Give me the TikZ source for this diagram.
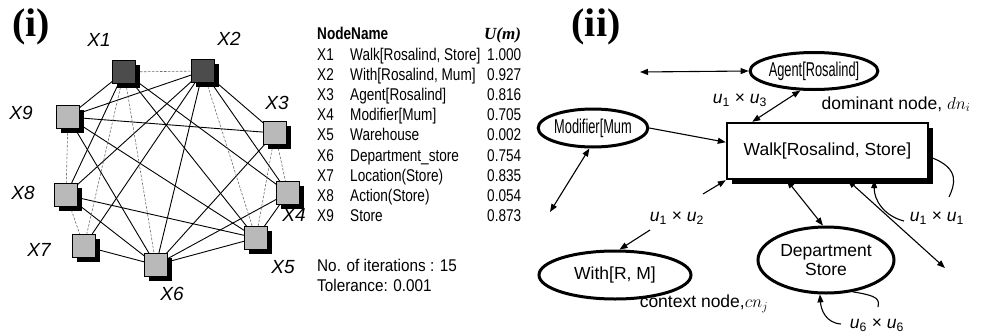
\documentclass[tikz,border=0pt]{standalone}
\usepackage{fontspec}
\setmainfont{Liberation Sans}
\newfontfamily\tabfont[FakeStretch=0.8]{Liberation Sans}
\newfontfamily\notefont[FakeStretch=0.9]{Liberation Sans}
\newfontfamily\condfont[FakeStretch=0.64]{Liberation Sans}
\newfontfamily\serfont{Liberation Serif}
\usetikzlibrary{arrows.meta,shapes.geometric,shadows,calc,backgrounds}

\begin{document}
\begin{tikzpicture}[x=1pt,y=-1pt,
  >={Triangle[length=8pt,width=6pt]},
  vbox/.style={draw=black,line width=1.8pt,fill=gray!55,minimum size=23pt,inner sep=0pt,
    drop shadow={shadow xshift=4.5pt,shadow yshift=-4.5pt,fill=black,opacity=1}},
  dbox/.style={vbox,fill=black!70},
  vlab/.style={font=\fontsize{19}{19}\selectfont\itshape,inner sep=0pt},
  strong/.style={line width=0.9pt},
  weak/.style={line width=0.6pt,gray!85!black,dash pattern=on 2.5pt off 1.5pt},
  tab/.style={anchor=base west,inner sep=0pt,font=\tabfont\fontsize{17}{17}\selectfont},
  note/.style={anchor=base west,inner sep=0pt,font=\notefont\fontsize{17}{17}\selectfont},
  ell/.style={ellipse,draw,line width=3pt,fill=white,inner sep=0pt},
  lab/.style={font=\fontsize{17.5}{19}\selectfont,inner sep=0pt,align=center},
  link/.style={line width=1.1pt},
  panel/.style={font=\serfont\bfseries\fontsize{40}{40}\selectfont,inner sep=0pt}
]
\useasboundingbox (0,0) rectangle (986,335);

% ---------- panel (i): network of nine nodes ----------
\node[panel] (pi) at (31,27) {(i)};

\node[dbox] (n1) at (124,72) {};
\node[dbox] (n2) at (203,71) {};
\node[vbox] (n3) at (275,133) {};
\node[vbox] (n4) at (288,193) {};
\node[vbox] (n5) at (256,238) {};
\node[vbox] (n6) at (156,265) {};
\node[vbox] (n7) at (84,246) {};
\node[vbox] (n8) at (66,195) {};
\node[vbox] (n9) at (68,117) {};

\begin{pgfonlayer}{background}
  \foreach \a/\b in {1/9,1/8,1/5,1/4,2/9,2/8,2/7,2/6,2/4,2/3,9/3,9/5,9/6,3/6,8/5,8/6,7/6,4/6,4/5,5/6}
    \draw[strong] (n\a.center) -- (n\b.center);
  \foreach \a/\b in {1/2,1/7,1/6,9/8,2/5,3/5,3/4,8/7}
    \draw[weak] (n\a.center) -- (n\b.center);
\end{pgfonlayer}

\node[vlab] (l1) at (99,40) {X1};
\node[vlab] (l2) at (229,39) {X2};
\node[vlab] (l3) at (277,103) {X3};
\node[vlab] (l4) at (294,215) {X4};
\node[vlab] (l5) at (283,267) {X5};
\node[vlab] (l6) at (172,294) {X6};
\node[vlab] (l7) at (39,250) {X7};
\node[vlab] (l8) at (23,193) {X8};
\node[vlab] (l9) at (21,113) {X9};

% ---------- table of node values ----------
\node[tab,font=\tabfont\bfseries\fontsize{17}{17}\selectfont] (hd) at (317,39.5) {NodeName};
\node[tab,font=\serfont\bfseries\itshape\fontsize{17}{17}\selectfont] (hu) at (484,39.5) {U(m)};
\foreach \lab/\nm/\val [count=\k] in {
   X1/{Walk[Rosalind, Store]}/1.000,
   X2/{With[Rosalind, Mum]}/0.927,
   X3/{Agent[Rosalind]}/0.816,
   X4/{Modifier[Mum]}/0.705,
   X5/{Warehouse}/0.002,
   X6/{Department\_store}/0.754,
   X7/{Location(Store)}/0.835,
   X8/{Action(Store)}/0.054,
   X9/{Store}/0.873}{
  \node[tab] (tx\k) at (317,{60.5+20.1*(\k-1)}) {\lab};
  \node[tab] (tn\k) at (350,{60.5+20.1*(\k-1)}) {\nm};
  \node[tab] (tv\k) at (487,{60.5+20.1*(\k-1)}) {\val};
}
\node[note] (it) at (317,271.5) {No. of iterations : 15};
\node[note] (tol) at (317,291.5) {Tolerance: 0.001};

% ---------- panel (ii): dominant and context nodes ----------
\node[panel] (pii) at (596,27) {(ii)};

\node[draw,line width=2.4pt,fill=white,minimum width=201pt,minimum height=56pt,inner sep=0pt,
      drop shadow={shadow xshift=5pt,shadow yshift=-5pt,fill=black,opacity=1},
      font=\fontsize{17.5}{19}\selectfont] (walk) at (827.5,151) {Walk[Rosalind, Store]};

\node[ell,minimum width=94pt,minimum height=37pt,font=\condfont\fontsize{20}{20}\selectfont] (agent) at (814,71) {Agent[Rosalind]};
\node[ell,minimum width=90pt,minimum height=38pt,font=\condfont\fontsize{20}{20}\selectfont] (mod) at (593,128) {Modifier[Mum};
\node[ell,minimum width=152pt,minimum height=48pt,font=\fontsize{17.5}{19}\selectfont] (with) at (615,275) {With[R, M]};
\node[ell,minimum width=136pt,minimum height=66pt,lab] (dept) at (826,260) {Department\\Store};

\node[lab] (u13) at (740,100) {\textit{u}\textsubscript{1} × \textit{u}\textsubscript{3}};
\node[lab] (dom) at (896,104) {dominant node, $dn_i$};
\node[lab] (u12) at (677,218) {\textit{u}\textsubscript{1} × \textit{u}\textsubscript{2}};
\node[lab] (u11) at (937,218) {\textit{u}\textsubscript{1} × \textit{u}\textsubscript{1}};
\node[lab] (u66) at (877,325) {\textit{u}\textsubscript{6} × \textit{u}\textsubscript{6}};
\node[lab] (ctx) at (704,304) {context node,$cn_j$};

% free ends of connectors
\coordinate (fa) at (640,72);
\coordinate (fb) at (550,212);
\coordinate (fc) at (703,194);
\coordinate (fd) at (650,230);
\coordinate (fe) at (945,268);
\coordinate (ff) at (949,197);
\coordinate (fg) at (904,221);
\coordinate (fh) at (878,307);
\coordinate (fi) at (841,324);

\draw[link,<->] (fa) -- (agent.west);
\draw[link,<->] (agent.235) -- ($(walk.north west)!0.13!(walk.north east)$);
\draw[link,->] (mod.east) -- ($(walk.north west)!0.35!(walk.south west)$);
\draw[link,<->] (mod.260) -- (fb);
\draw[link,->] (fc) -- (walk.south west);
\draw[link,->] (fd) -- (with.80);
\draw[link,<->] ($(walk.south west)!0.3!(walk.south east)$) -- (dept.95);
\draw[link,<->] ($(walk.south west)!0.6!(walk.south east)$) -- (fe);
% self loop of the dominant node
\draw[link] ($(walk.north east)!0.6!(walk.south east)$) .. controls (962,168) and (954,186) .. (ff);
\draw[link,->] (fg) .. controls (884,216) and (874,200) .. ($(walk.south west)!0.73!(walk.south east)$);
% self loop of the department store node
\draw[link] (dept.-50) .. controls (880,296) and (879,300) .. (fh);
\draw[link,->] (fi) .. controls (826,323) and (821,310) .. (dept.-100);
\end{tikzpicture}
\end{document}
